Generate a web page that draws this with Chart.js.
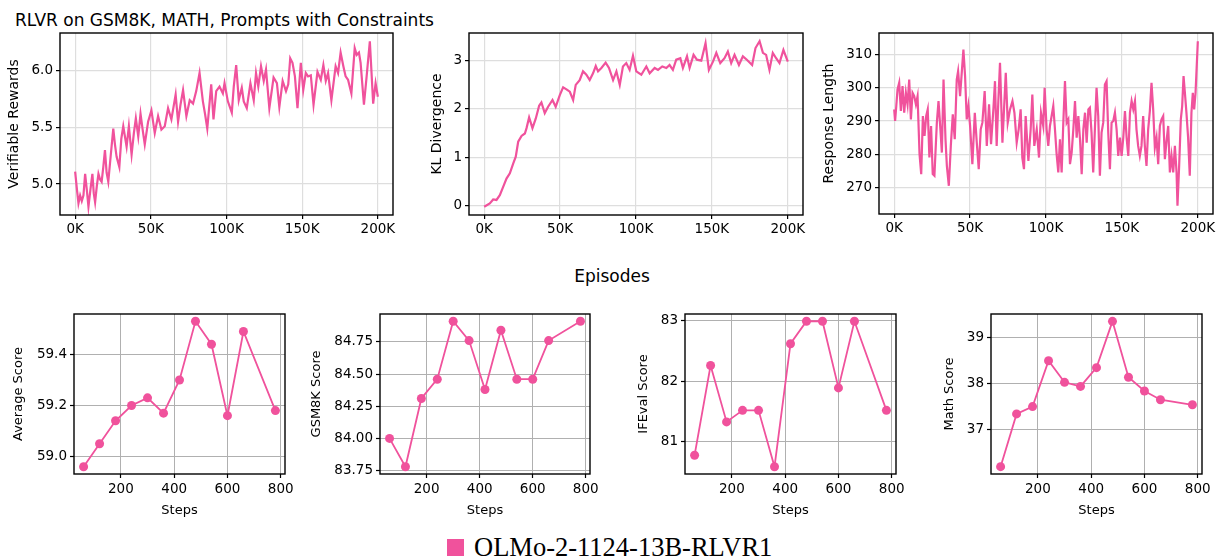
<!DOCTYPE html>
<html>
<head>
<meta charset="utf-8">
<script src="https://cdn.jsdelivr.net/npm/chart.js@4.4.1/dist/chart.umd.min.js"></script>
<style>
  body { margin: 0; background: #fff; }
  #figure { position: relative; width: 1217px; height: 560px; overflow: hidden; background: #fff; font-family: "DejaVu Sans", sans-serif; color: #000; }
  #figure canvas { position: absolute; }
  .txt { position: absolute; white-space: nowrap; }
  #suptitle { left: 15px; top: 10px; font-size: 17px; line-height: 20px; }
  #episodes { left: 612px; top: 266px; font-size: 17px; line-height: 20px; transform: translateX(-50%); }
  #legendBox { position: absolute; left: 447px; top: 539px; width: 17px; height: 17px; background: #f0529c; }
  #legendText { left: 474px; top: 532px; font-family: "Liberation Serif", serif; font-size: 26.5px; line-height: 30px; }
</style>
</head>
<body>
<div id="figure">
  <div class="txt" id="suptitle">RLVR on GSM8K, MATH, Prompts with Constraints</div>
  <div class="txt" id="episodes">Episodes</div>
  <div id="legendBox"></div>
  <div class="txt" id="legendText">OLMo-2-1124-13B-RLVR1</div>
  <canvas id="rewardChart"></canvas>
  <canvas id="klChart"></canvas>
  <canvas id="lengthChart"></canvas>
  <canvas id="avgChart"></canvas>
  <canvas id="gsmChart"></canvas>
  <canvas id="ifevalChart"></canvas>
  <canvas id="mathChart"></canvas>
</div>
<script>
// ------------------------- DATA ----------------------------------------------

// training curves, episodes in thousands
var rewardEpisodesK = [0,1.2,2.2,3.3,4.4,5.5,6.6,7.7,8.8,10.1,11.4,12.3,13.2,14.3,15.4,16.5,17.5,18.6,19.7,20.8,
  21.9,23.5,25.2,26.3,27.4,29.2,30.5,31.8,34,35.5,37.3,38.8,40.1,41.7,43.2,44.6,46,48.2,50.4,52.6,
  54.8,57,59.2,61.4,63.6,66.4,68,69.6,71.3,73.5,75.7,77.9,80,82.2,84.4,85.8,87.3,89.9,91.4,93.2,
  95.4,97.6,98.7,100.9,103.5,104.8,106.4,108.1,110.1,111.4,113.4,115.8,118,119.5,121,122.8,124.6,126.1,128.3,131.1,
  133.3,134.9,137.1,139.3,140.8,142.1,143.6,145.2,146.9,149.1,150.7,152.4,153.9,155.7,157.5,160.1,162.3,164,165.6,167.1,
  169.3,172.1,173.7,175.4,177.2,178.7,180.3,182.5,184.7,186,187.5,188.6,190.8,192.5,194.7,196.9,198.5,200];
var rewardValues = [5.11,4.95,4.83,4.90,4.85,4.90,5.09,4.95,4.80,4.95,5.09,4.92,4.84,4.98,5.09,5.04,5.02,5.15,5.30,5.10,
  5.02,5.25,5.49,5.35,5.24,5.15,5.40,5.51,5.33,5.51,5.26,5.45,5.58,5.42,5.62,5.48,5.35,5.55,5.65,5.45,
  5.60,5.48,5.51,5.67,5.57,5.79,5.55,5.70,5.83,5.60,5.74,5.71,5.82,5.98,5.73,5.62,5.49,5.88,5.57,5.82,
  5.86,5.80,5.89,5.73,5.63,5.86,6.05,5.74,5.85,5.73,5.67,5.89,5.74,5.98,5.86,6.04,5.91,6.01,5.67,5.94,
  5.89,5.68,5.91,5.82,5.88,6.11,6.07,5.95,5.67,6.07,5.83,5.98,5.95,5.96,5.70,5.99,5.92,6.05,5.91,5.98,
  5.74,6.04,5.98,6.16,6.04,5.95,5.92,5.80,6.20,6.14,6.16,6.07,5.70,5.94,6.26,5.71,5.89,5.77];

var klEpisodesK = [0,3.7,5.9,8.1,10.3,12.5,14.7,16.9,19.1,20.8,22.4,24.6,26.8,27.9,29.6,31.8,34,36.2,37.7,39.9,
  42.1,45,47.1,49.8,52,54.2,56.4,58.6,60.3,62.9,65.1,67.3,69.5,71.7,73.5,75,77.2,80,82.2,84.9,
  87.1,89.3,91.4,93.6,95.8,98,100.2,103.5,106.8,109,112.3,114.5,117.3,120,122.1,124.3,126.5,129.2,130.9,133.6,
  135.3,137.9,140.1,143,145.8,148,150.7,152.9,155.5,158.3,160.5,162.7,164.9,167.8,170.4,173,176.5,178.7,181.4,183.6,
  185.7,187.9,190.1,192.3,194.5,197.1,200];
var klValues = [-0.02,0.05,0.13,0.12,0.22,0.39,0.56,0.67,0.87,1.01,1.32,1.44,1.49,1.60,1.82,1.60,1.80,2.06,2.13,1.91,
  2.04,2.18,2.04,2.28,2.44,2.40,2.35,2.18,2.49,2.59,2.77,2.70,2.59,2.73,2.88,2.77,2.84,2.95,2.84,2.59,
  2.77,2.49,2.87,2.94,2.80,3.09,2.77,2.70,2.87,2.73,2.84,2.80,2.87,2.84,2.90,2.80,3.01,3.04,2.84,3.08,
  2.84,3.11,3.01,2.99,3.35,2.80,2.97,3.15,2.94,3.04,3.18,2.94,3.11,2.90,3.08,3.01,2.90,3.25,3.39,3.15,
  3.11,2.80,3.15,3.04,2.94,3.21,2.97];

var lengthEpisodesK = [0,0.6,1.3,2.2,3.3,4.4,5.5,6.6,7.7,8.8,9.9,11,12.1,13.2,14.3,15.4,16.7,17.8,18.9,20,
  21.1,22.1,23.2,24.3,25.4,26.5,28.1,29.2,30.3,31.4,32.5,33.8,34.7,36,37.3,38.6,39.9,41.2,42.1,43.4,
  44.5,45.6,46.7,47.8,48.9,50,51.5,53.1,54.4,55.7,57,58.1,59.6,61,62.5,63.8,65.4,66.4,67.5,68.6,
  69.7,71.3,72.4,73.5,74.8,76.3,77.9,79.2,80.7,82,83.3,84.4,85.5,86.6,88.4,89.9,91,92.3,93.9,95.4,
  96.7,98.2,99.1,100.4,101.5,102.6,103.7,104.8,105.9,107,108.1,109.2,110.3,111.4,112.5,113.6,114.7,115.8,116.9,118,
  119.1,120.2,121.3,122.4,123.5,124.6,125.7,126.8,127.9,128.9,130,131.1,132.2,133.3,134.4,135.5,136.6,137.7,138.8,139.9,
  141,142.1,143.2,144.3,145.4,146.5,147.6,148.7,149.8,150.9,152,153.1,154.2,155.3,156.4,157.5,158.6,159.6,160.7,161.8,
  162.9,164,165.1,166.2,167.3,168.4,169.5,170.6,171.7,172.8,173.9,175,176.1,177.2,178.3,179.4,180.5,181.6,182.7,183.8,
  184.9,186,186.6,187.7,188.8,189.7,190.6,191.4,192.5,193.6,194.7,195.8,196.7,197.6,198.5,200];
var lengthValues = [293.5,290,294,299.5,301.5,293,300.5,292.5,298.5,295,302.5,290.5,298.5,297.5,295,297.5,280,274,291.5,285.5,
  291.5,293.5,279,288.5,274,273.5,289.5,296,288.5,280.5,302.5,284.5,276.5,270.5,282.5,292,284.5,302.5,305,297.5,
  304.5,311.5,303.5,290.5,294.5,288.5,277,292.5,283.5,275.5,287.5,289.5,299,282.5,295,283,294,302,282.5,296,
  307.5,283.5,294,304.5,289.5,293.5,296,292.5,283.5,287.5,293.5,279,275.5,291.5,278,287.5,298,282.5,287.5,279,
  292.5,288.5,300,287.5,282.5,288.5,291.5,294.5,287.5,280,274.5,284.5,274.5,289.5,302,289.5,290.5,277,280.5,287.5,
  296,285,291.5,284.5,274,287.5,292.5,283.5,293.5,294,286.5,274.5,287.5,300,291.5,273.5,286.5,289.5,301,302,
  286.5,275.5,289.5,290,292.5,287.5,279.5,285,279.5,285,293,285,279.5,292.5,296,293.5,296,287.5,282.5,279.5,
  282.5,291.5,282.5,276.5,287.5,293,301.5,293.5,282,285,277,288.5,290.5,291.5,278.5,284,288.5,274.5,279.5,274.5,
  282.5,274.5,264.5,276.5,290.5,294.5,303.5,299,292.5,285,273.5,292.5,298.5,293.5,298.5,314];

// evaluation checkpoints
var evalSteps = [60, 120, 180, 240, 300, 360, 420, 480, 540, 600, 660, 780];
var averageScores = [58.96, 59.05, 59.14, 59.20, 59.23, 59.17, 59.30, 59.53, 59.44, 59.16, 59.49, 59.18];
var gsm8kScores = [84.00, 83.78, 84.31, 84.46, 84.91, 84.76, 84.38, 84.84, 84.46, 84.46, 84.76, 84.91];
var ifevalScores = [80.78, 82.26, 81.33, 81.52, 81.52, 80.59, 82.62, 82.99, 82.99, 81.89, 82.99, 81.52];
var mathScores = [36.19, 37.34, 37.50, 38.50, 38.03, 37.94, 38.35, 39.36, 38.14, 37.84, 37.65, 37.54];

// tick labels
var episodeTicks = [0, 50, 100, 150, 200];
var stepTicks = [200, 400, 600, 800];
var rewardTicks = [5.0, 5.5, 6.0];
var klTicks = [0, 1, 2, 3];
var lengthTicks = [270, 280, 290, 300, 310];
var averageTicks = [59.0, 59.2, 59.4];
var gsm8kTicks = [83.75, 84.00, 84.25, 84.50, 84.75];
var ifevalTicks = [81, 82, 83];
var mathTicks = [37, 38, 39];

// ------------------------- CHART RELATED -------------------------------------

var PINK = '#f0529c';

// draws the four-sided box round the plot area (matplotlib spines)
var framePlugin = {
  id: 'frame',
  afterDatasetsDraw: function(chart) {
    var a = chart.chartArea;
    var ctx = chart.ctx;
    ctx.save();
    ctx.strokeStyle = '#000';
    ctx.lineWidth = 1.4;
    ctx.strokeRect(Math.round(a.left), Math.round(a.top),
      Math.round(a.right - a.left), Math.round(a.bottom - a.top));
    ctx.restore();
  }
};

// fixed tick values
var fixTicks = function(values) {
  return function(scale) {
    scale.ticks = values.map(function(v) { return {value: v}; });
  };
};

// fixed axis size so every plot area lands where it should
var fixSize = function(prop, size) {
  return function(scale) {
    scale[prop] = size;
    scale.paddingLeft = 0;
    scale.paddingRight = 0;
    scale.paddingTop = 0;
    scale.paddingBottom = 0;
  };
};

function makeChart(id, box, xs, ys, opt) {
  var canvas = document.getElementById(id);
  var width = box.canvasRight - box.canvasLeft;
  var height = box.plotBottom - box.canvasTop + box.xH;
  canvas.width = width;
  canvas.height = height;
  canvas.style.left = box.canvasLeft + 'px';
  canvas.style.top = box.canvasTop + 'px';
  canvas.style.width = width + 'px';
  canvas.style.height = height + 'px';

  var points = xs.map(function(x, i) { return {x: x, y: ys[i]}; });
  var tickFont = {family: 'DejaVu Sans', size: opt.tickSize};
  var titleFont = {family: 'DejaVu Sans', size: opt.titleSize};

  return new Chart(canvas, {
    type: 'line',
    data: {
      datasets: [{
        data: points,
        borderColor: PINK,
        backgroundColor: PINK,
        borderWidth: opt.lineWidth,
        pointRadius: opt.pointRadius,
        pointHoverRadius: opt.pointRadius,
        pointBorderWidth: 0,
        pointBackgroundColor: PINK,
        tension: 0,
        fill: false
      }]
    },
    options: {
      responsive: false,
      animation: false,
      devicePixelRatio: 1,
      events: [],
      layout: {padding: {left: 0, bottom: 0, top: box.plotTop - box.canvasTop, right: box.canvasRight - box.plotRight}},
      plugins: {legend: {display: false}, tooltip: {enabled: false}},
      scales: {
        x: {
          type: 'linear',
          min: opt.xMin,
          max: opt.xMax,
          afterBuildTicks: fixTicks(opt.xTicks),
          afterFit: fixSize('height', box.xH),
          border: {display: false},
          grid: {color: opt.gridColor, lineWidth: opt.gridWidth, drawTicks: true, tickLength: 4, tickColor: '#000', tickWidth: 1.2},
          ticks: {font: tickFont, color: '#000', padding: opt.xPad, maxRotation: 0, autoSkip: false, callback: opt.xFormat},
          title: opt.xTitle ? {display: true, text: opt.xTitle, font: titleFont, color: '#000', padding: {top: 0, bottom: opt.xTitlePad}} : {display: false}
        },
        y: {
          type: 'linear',
          min: opt.yMin,
          max: opt.yMax,
          afterBuildTicks: fixTicks(opt.yTicks),
          afterFit: fixSize('width', box.plotLeft - box.canvasLeft),
          border: {display: false},
          grid: {color: opt.gridColor, lineWidth: opt.gridWidth, drawTicks: true, tickLength: 4, tickColor: '#000', tickWidth: 1.2},
          ticks: {font: tickFont, color: '#000', padding: 3, autoSkip: false, callback: opt.yFormat},
          title: {display: true, text: opt.yTitle, font: titleFont, color: '#000', padding: {top: box.titlePad, bottom: 0}}
        }
      }
    },
    plugins: [framePlugin]
  });
}

var kFormat = function(v) { return v + 'K'; };
var fixed = function(n) { return function(v) { return v.toFixed(n); }; };

// top row: training curves
var topStyle = {tickSize: 13.5, titleSize: 14, lineWidth: 2.2, pointRadius: 0, gridColor: '#dedede', gridWidth: 1.2,
  xMin: -10, xMax: 210, xTicks: episodeTicks, xFormat: kFormat, xPad: 2};

makeChart('rewardChart', {canvasLeft: 0, canvasRight: 418, canvasTop: 21, plotLeft: 60, plotRight: 393, plotTop: 33, plotBottom: 215, xH: 30, titlePad: 5.6},
  rewardEpisodesK, rewardValues,
  Object.assign({}, topStyle, {yMin: 4.727, yMax: 6.333, yTicks: rewardTicks, yFormat: fixed(1), yTitle: 'Verifiable Rewards'}));

makeChart('klChart', {canvasLeft: 420, canvasRight: 810, canvasTop: 21, plotLeft: 469, plotRight: 803, plotTop: 33, plotBottom: 215, xH: 30, titlePad: 8.6},
  klEpisodesK, klValues,
  Object.assign({}, topStyle, {yMin: -0.19, yMax: 3.56, yTicks: klTicks, yFormat: fixed(0), yTitle: 'KL Divergence'}));

makeChart('lengthChart', {canvasLeft: 812, canvasRight: 1217, canvasTop: 21, plotLeft: 879, plotRight: 1213, plotTop: 33, plotBottom: 214, xH: 30, titlePad: 8.6},
  lengthEpisodesK, lengthValues,
  Object.assign({}, topStyle, {yMin: 262.0, yMax: 316.5, yTicks: lengthTicks, yFormat: fixed(0), yTitle: 'Response Length'}));

// bottom row: evaluation scores
var bottomStyle = {tickSize: 13.5, titleSize: 13, lineWidth: 1.8, pointRadius: 4.5, gridColor: '#b0b0b0', gridWidth: 1,
  xMin: 24, xMax: 816, xTicks: stepTicks, xFormat: fixed(0), xPad: 3, xTitle: 'Steps', xTitlePad: 6};

makeChart('avgChart', {canvasLeft: 0, canvasRight: 299, canvasTop: 304, plotLeft: 74, plotRight: 285, plotTop: 314, plotBottom: 474, xH: 50, titlePad: 11.2},
  evalSteps, averageScores,
  Object.assign({}, bottomStyle, {yMin: 58.9315, yMax: 59.5585, yTicks: averageTicks, yFormat: fixed(1), yTitle: 'Average Score'}));

makeChart('gsmChart', {canvasLeft: 300, canvasRight: 605, canvasTop: 304, plotLeft: 380, plotRight: 590, plotTop: 314, plotBottom: 474, xH: 50, titlePad: 9.2},
  evalSteps, gsm8kScores,
  Object.assign({}, bottomStyle, {yMin: 83.7235, yMax: 84.9665, yTicks: gsm8kTicks, yFormat: fixed(2), yTitle: 'GSM8K Score'}));

makeChart('ifevalChart', {canvasLeft: 608, canvasRight: 909, canvasTop: 304, plotLeft: 685, plotRight: 896, plotTop: 314, plotBottom: 474, xH: 50, titlePad: 28.2},
  evalSteps, ifevalScores,
  Object.assign({}, bottomStyle, {yMin: 80.47, yMax: 83.11, yTicks: ifevalTicks, yFormat: fixed(0), yTitle: 'IFEval Score'}));

makeChart('mathChart', {canvasLeft: 910, canvasRight: 1217, canvasTop: 304, plotLeft: 991, plotRight: 1202, plotTop: 314, plotBottom: 474, xH: 50, titlePad: 32.2},
  evalSteps, mathScores,
  Object.assign({}, bottomStyle, {yMin: 36.03, yMax: 39.52, yTicks: mathTicks, yFormat: fixed(0), yTitle: 'Math Score'}));
</script>
</body>
</html>
